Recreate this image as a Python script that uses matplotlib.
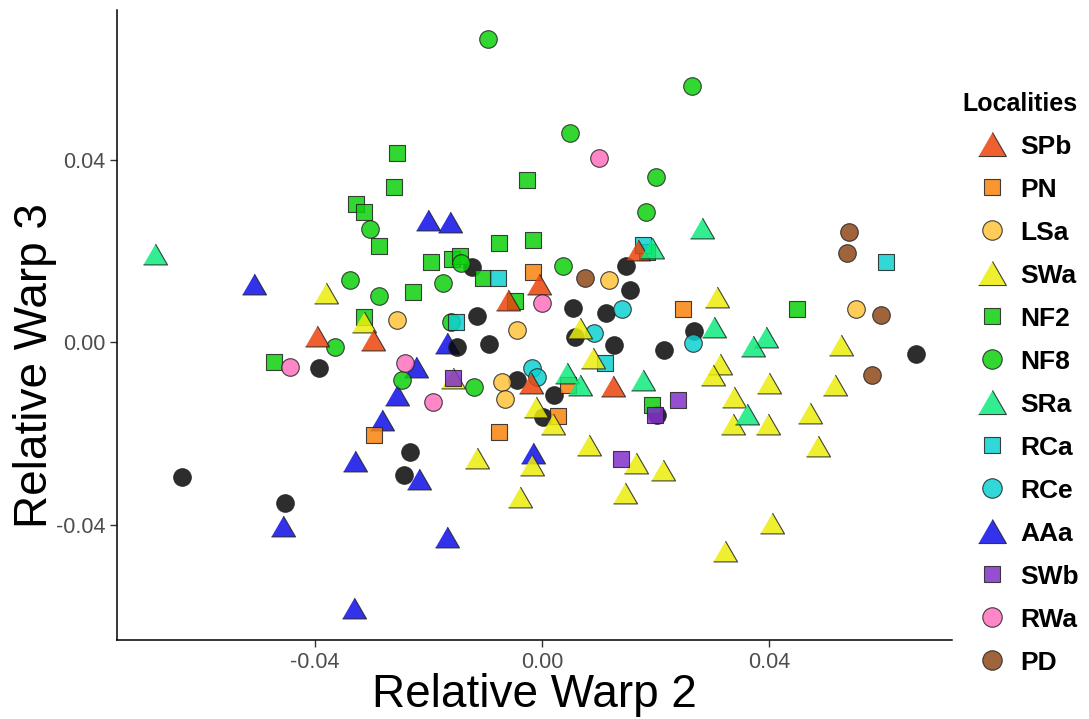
import numpy as np
import matplotlib
matplotlib.use("Agg")
import matplotlib.pyplot as plt
from matplotlib.lines import Line2D

plt.rcParams['font.family'] = ['Liberation Sans', 'DejaVu Sans']

# relative warp scores per locality (RW2, RW3)
spb_x = [-0.0396, -0.0298, -0.0060, -0.0005, 0.0169, -0.0019, 0.0125]
spb_y = [0.0013, 0.0004, 0.0092, 0.0127, 0.0202, -0.0090, -0.0096]
pn_x = [-0.0296, -0.0076, 0.0028, -0.0016, 0.0248, 0.0046]
pn_y = [-0.0204, -0.0197, -0.0162, 0.0153, 0.0072, -0.0094]
lsa_x = [-0.0255, 0.0553, 0.0118, -0.0044, -0.0070, -0.0065]
lsa_y = [0.0048, 0.0072, 0.0136, 0.0026, -0.0088, -0.0125]
swa_x = [-0.0381, -0.0314, 0.0067, 0.0090, -0.0011, 0.0019, 0.0083, -0.0115, -0.0018,
         -0.0039, 0.0166, 0.0213, 0.0146, -0.0157, 0.0314, 0.0301, 0.0527, 0.0400,
         0.0516, 0.0338, 0.0472, 0.0337, 0.0398, 0.0486, 0.0405, 0.0322, 0.0308]
swa_y = [0.0107, 0.0044, 0.0031, -0.0035, -0.0142, -0.0180, -0.0226, -0.0254, -0.0270,
         -0.0340, -0.0265, -0.0281, -0.0331, -0.0079, -0.0048, -0.0072, -0.0007, -0.0090,
         -0.0094, -0.0121, -0.0156, -0.0180, -0.0180, -0.0228, -0.0397, -0.0458, 0.0099]
nf2_x = [-0.0255, -0.0261, -0.0328, -0.0314, -0.0287, -0.0314, -0.0196, -0.0159, -0.0144,
         -0.0076, -0.0016, -0.0026, -0.0104, -0.0227, -0.0048, -0.0472, 0.0449, 0.0194, 0.0185]
nf2_y = [0.0414, 0.0340, 0.0302, 0.0285, 0.0210, 0.0055, 0.0175, 0.0182, 0.0189,
         0.0217, 0.0224, 0.0355, 0.0140, 0.0110, 0.0090, -0.0044, 0.0072, -0.0138, 0.0197]
nf8_x = [-0.0095, 0.0049, 0.0201, 0.0183, 0.0264, -0.0303, -0.0338, -0.0287, -0.0174,
         -0.0143, 0.0037, -0.0365, -0.0247, -0.0120, -0.0160]
nf8_y = [0.0664, 0.0458, 0.0362, 0.0285, 0.0561, 0.0248, 0.0136, 0.0101, 0.0129,
         0.0173, 0.0167, -0.0011, -0.0083, -0.0099, 0.0044]
sra_x = [-0.0682, 0.0282, 0.0194, 0.0303, 0.0395, 0.0372, 0.0361, 0.0044, 0.0067, 0.0178]
sra_y = [0.0193, 0.0250, 0.0206, 0.0033, 0.0011, -0.0009, -0.0158, -0.0068, -0.0094, -0.0083]
rca_x = [0.0606, -0.0078, -0.0152, 0.0178, 0.0111]
rca_y = [0.0175, 0.0140, 0.0044, 0.0213, -0.0046]
rce_x = [0.0141, 0.0092, 0.0266, -0.0018, -0.0009]
rce_y = [0.0072, 0.0020, -0.0002, -0.0057, -0.0077]
aaa_x = [-0.0507, -0.0201, -0.0162, -0.0167, -0.0222, -0.0255, -0.0282, -0.0329, -0.0456,
         -0.0331, -0.0217, -0.0016, -0.0167]
aaa_y = [0.0127, 0.0267, 0.0263, -0.0002, -0.0055, -0.0116, -0.0171, -0.0261, -0.0403,
         -0.0583, -0.0300, -0.0243, -0.0427]
swb_x = [-0.0157, 0.0240, 0.0199, 0.0139]
swb_y = [-0.0079, -0.0127, -0.0160, -0.0256]
rwa_x = [0.0100, 0.0000, -0.0241, -0.0444, -0.0192]
rwa_y = [0.0403, 0.0085, -0.0046, -0.0055, -0.0132]
pd_x = [0.0541, 0.0537, 0.0597, 0.0581, 0.0076]
pd_y = [0.0241, 0.0195, 0.0059, -0.0072, 0.0140]
# specimens without locality (dark points, not in legend)
na_x = [-0.0393, -0.0634, -0.0453, -0.0243, -0.0233, -0.0123, 0.0148, 0.0155, 0.0055, 0.0113,
        -0.0115, -0.0150, -0.0093, 0.0058, 0.0127, 0.0215, 0.0268, -0.0044, 0.0021, 0.0002,
        0.0659, 0.0203]
na_y = [-0.0057, -0.0296, -0.0353, -0.0292, -0.0241, 0.0164, 0.0167, 0.0114, 0.0075, 0.0064,
        0.0057, -0.0011, -0.0004, 0.0011, -0.0007, -0.0018, 0.0024, -0.0083, -0.0116, -0.0164,
        -0.0026, -0.0160]

tri = [(-1, -0.866), (1, -0.866), (0, 0.866)]
marker_for = {'t': tri, 's': 's', 'o': 'o'}
size_for = {'t': 300, 's': 135, 'o': 160}

# name, x, y, shape, colour
groups = [
    ('AAa', aaa_x, aaa_y, 't', '#0E0EE7'),
    (None, na_x, na_y, 'o', '#080808'),
    ('PD', pd_x, pd_y, 'o', '#8F491A'),
    ('NF2', nf2_x, nf2_y, 's', '#0ED00E'),
    ('NF8', nf8_x, nf8_y, 'o', '#0ED00E'),
    ('RCa', rca_x, rca_y, 's', '#0ED0D0'),
    ('RCe', rce_x, rce_y, 'o', '#0ED0D0'),
    ('PN', pn_x, pn_y, 's', '#F9840E'),
    ('LSa', lsa_x, lsa_y, 'o', '#FFC43D'),
    ('SWa', swa_x, swa_y, 't', '#EDED0E'),
    ('SPb', spb_x, spb_y, 't', '#EB440C'),
    ('SRa', sra_x, sra_y, 't', '#0EEB7E'),
    ('SWb', swb_x, swb_y, 's', '#8331CA'),
    ('RWa', rwa_x, rwa_y, 'o', '#FF72BE'),
]
legend_order = ['SPb', 'PN', 'LSa', 'SWa', 'NF2', 'NF8', 'SRa', 'RCa', 'RCe', 'AAa', 'SWb', 'RWa', 'PD']

fig = plt.figure(figsize=(10.89, 7.19), dpi=100)
ax = fig.add_axes([117 / 1089, 1 - 640 / 719, (952 - 117) / 1089, (640 - 10) / 719])

for name, xs, ys, shp, col in groups:
    ax.scatter(xs, ys, s=size_for[shp], marker=marker_for[shp], c=col,
               edgecolors='#222222', linewidths=0.8, alpha=0.85, zorder=3)

ax.set_xlim(-0.0749, 0.0722)
ax.set_ylim(-0.0653, 0.0728)
ax.set_xticks([-0.04, 0.0, 0.04])
ax.set_xticklabels(['-0.04', '0.00', '0.04'])
ax.set_yticks([-0.04, 0.0, 0.04])
ax.set_yticklabels(['-0.04', '0.00', '0.04'])
ax.tick_params(labelsize=15.5, labelcolor='#4D4D4D', color='#333333', length=5, width=1)
for side in ['top', 'right']:
    ax.spines[side].set_visible(False)
for side in ['left', 'bottom']:
    ax.spines[side].set_linewidth(1.1)

ax.set_xlabel('Relative Warp 2', fontsize=33, labelpad=0)
ax.set_ylabel('Relative Warp 3', fontsize=33)
ax.yaxis.set_label_coords(-0.072, 0.435)

lookup = {g[0]: g for g in groups}
handles = []
legend_size = {'t': 20, 's': 12, 'o': 14}
for name in legend_order:
    _, _, _, shp, col = lookup[name]
    handles.append(Line2D([], [], linestyle='none', marker=marker_for[shp],
                          markersize=legend_size[shp], markerfacecolor=col,
                          markeredgecolor='#222222', markeredgewidth=0.8, alpha=0.85))
leg = fig.legend(handles, legend_order, loc='upper left', bbox_to_anchor=(952 / 1089, 1 - 81 / 719),
                 frameon=False, title='Localities', alignment='left',
                 prop={'size': 19, 'weight': 'bold'}, handlelength=2.2, handletextpad=0.0,
                 labelspacing=0.72, borderaxespad=0)
leg.get_title().set_fontsize(18)
leg.get_title().set_fontweight('bold')

fig.savefig('out.png', dpi=100)
